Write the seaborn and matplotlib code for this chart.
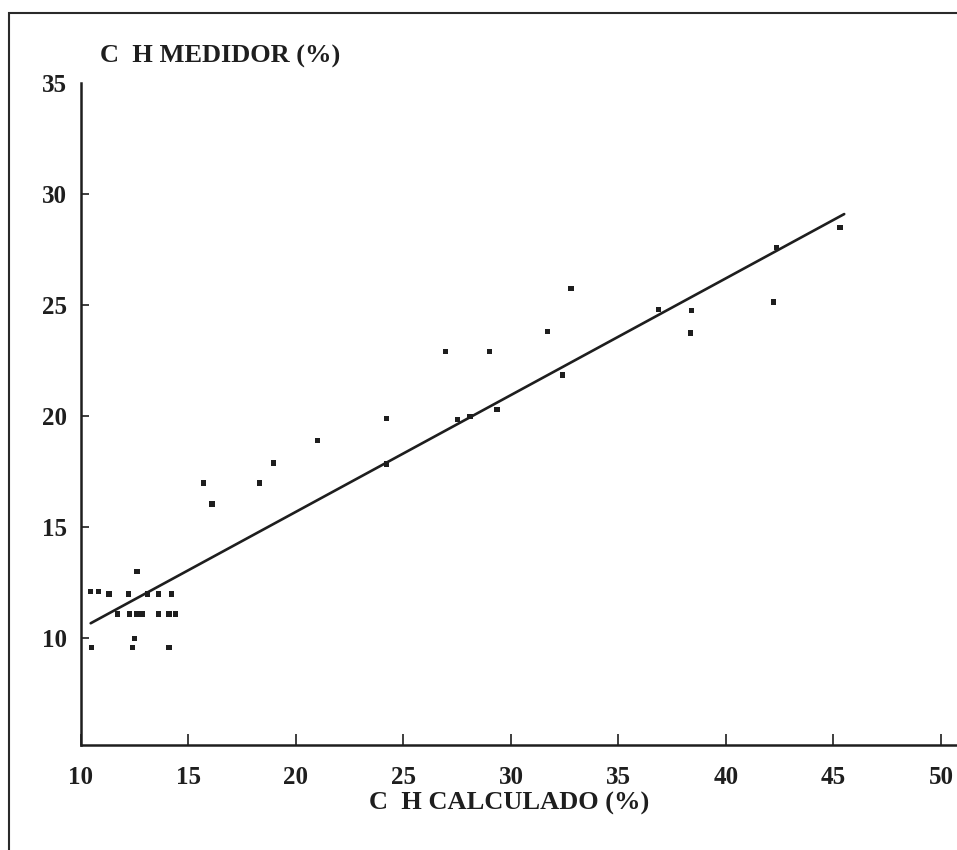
import matplotlib
matplotlib.use("Agg")
import matplotlib.pyplot as plt
from matplotlib.patches import Rectangle
import seaborn as sns
import pandas as pd

# ---- data ----
ch_calculado = [10.45, 10.8, 11.3, 12.2, 13.1, 13.6, 14.2,
                12.6,
                11.7, 12.25, 12.6, 12.85, 13.6, 14.1, 14.4,
                12.5,
                10.5, 12.4, 14.1,
                15.7, 16.1, 18.3, 18.95, 21.0, 24.2, 24.2,
                26.95, 29.0, 32.8, 31.7, 32.4, 29.35, 27.5, 28.1,
                36.85, 38.4, 38.35, 42.2, 42.35, 45.3]
ch_medidor = [12.1, 12.1, 12.0, 12.0, 12.0, 12.0, 12.0,
              13.0,
              11.1, 11.1, 11.1, 11.1, 11.1, 11.1, 11.1,
              10.0,
              9.6, 9.6, 9.6,
              17.0, 16.05, 17.0, 17.9, 18.9, 17.85, 19.9,
              22.9, 22.9, 25.75, 23.8, 21.85, 20.3, 19.85, 20.0,
              24.8, 24.75, 23.75, 25.15, 27.6, 28.5]

fit_x = [10.45, 45.5]
fit_y = [10.68, 29.1]

x_ticks = [10, 15, 20, 25, 30, 35, 40, 45, 50]
y_ticks = [10, 15, 20, 25, 30, 35]

x_label = "C  H CALCULADO (%)"
y_label = "C  H MEDIDOR (%)"

pts = pd.DataFrame({"calc": ch_calculado, "med": ch_medidor})
fit = pd.DataFrame({"calc": fit_x, "med": fit_y})

sns.set_style("ticks")
plt.rcParams["font.family"] = ["Liberation Serif", "DejaVu Serif"]
plt.rcParams["font.weight"] = "bold"

W, H = 957, 850
fig = plt.figure(figsize=(W / 100, H / 100), dpi=100)
fig.patch.set_facecolor("white")

left, right, top, bottom = 81, 956, 83, 745
ax = fig.add_axes([left / W, 1 - bottom / H, (right - left) / W, (bottom - top) / H])
ax.set_facecolor("white")

sns.lineplot(data=fit, x="calc", y="med", ax=ax, color="#1e1e1e", linewidth=1.9)
sns.scatterplot(data=pts, x="calc", y="med", ax=ax, marker="s", s=15,
                color="#1e1e1e", edgecolor="none", linewidth=0)

ax.set_xlim(10, 50.7)
ax.set_ylim(5.2, 35)
ax.set_xticks(x_ticks)
ax.set_yticks(y_ticks)
ax.set_xticklabels([str(v) for v in x_ticks])
ax.set_yticklabels([str(v) for v in y_ticks])

for s in ["top", "right"]:
    ax.spines[s].set_visible(False)
for s in ["left", "bottom"]:
    ax.spines[s].set_linewidth(1.8)
    ax.spines[s].set_color("#1e1e1e")

ax.tick_params(axis="x", direction="in", length=8, width=1.2, pad=15,
               labelsize=18, colors="#1e1e1e")
ax.tick_params(axis="y", direction="in", length=6, width=1.2, pad=10,
               labelsize=18, colors="#1e1e1e")
for lab in ax.get_xticklabels() + ax.get_yticklabels():
    lab.set_fontweight("bold")
# the top (35) label has no visible tick mark in the original
ax.yaxis.get_major_ticks()[-1].tick1line.set_visible(False)

ax.set_xlabel(x_label, fontsize=19, fontweight="bold", color="#1e1e1e")
ax.xaxis.set_label_coords(0.489, -0.088)
ax.xaxis.label.set_va("center")
ax.set_ylabel(y_label, fontsize=19, fontweight="bold", color="#1e1e1e",
              rotation=0, ha="left", va="center")
ax.yaxis.set_label_coords(0.022, 1.04)

# scanned-page border around the figure
fig.patches.append(Rectangle((9 / W, -0.02), 1.0, 1 - 13 / H + 0.02,
                             transform=fig.transFigure, fill=False,
                             edgecolor="#2a2a2a", linewidth=1.5))

fig.savefig("out.png", dpi=100)
